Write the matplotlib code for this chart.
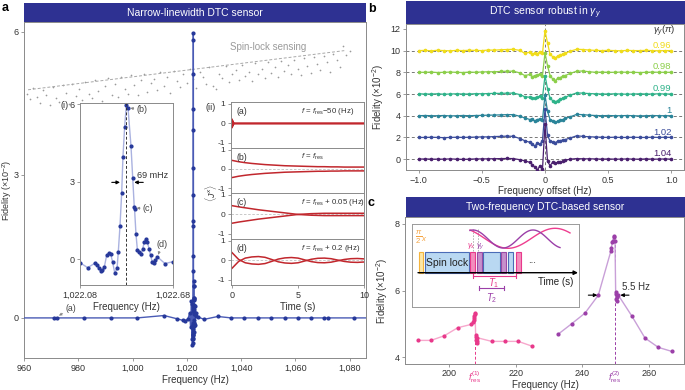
import numpy as np
import matplotlib
matplotlib.use('Agg')
import matplotlib.pyplot as plt
from matplotlib.patches import Rectangle
from matplotlib.transforms import blended_transform_factory

plt.rcParams['font.family'] = ['Liberation Sans', 'DejaVu Sans']
plt.rcParams['mathtext.fontset'] = 'custom'
plt.rcParams['mathtext.rm'] = 'Liberation Sans'
plt.rcParams['mathtext.it'] = 'Liberation Sans:italic'
plt.rcParams['mathtext.bf'] = 'Liberation Sans:bold'
plt.rcParams['font.size'] = 6.5
plt.rcParams['axes.edgecolor'] = '#8a8a8a'
plt.rcParams['axes.linewidth'] = 0.7
plt.rcParams['xtick.color'] = '#8a8a8a'
plt.rcParams['ytick.color'] = '#8a8a8a'
plt.rcParams['xtick.labelcolor'] = '#333333'
plt.rcParams['ytick.labelcolor'] = '#333333'
plt.rcParams['xtick.major.size'] = 2
plt.rcParams['ytick.major.size'] = 2
plt.rcParams['xtick.major.width'] = 0.6
plt.rcParams['ytick.major.width'] = 0.6
plt.rcParams['xtick.major.pad'] = 2
plt.rcParams['ytick.major.pad'] = 2
plt.rcParams['axes.labelcolor'] = '#333333'

# ---------------- data: panel a ----------------
main_f = [960.0, 971.0, 972.3, 982.0, 991.9, 1001.7, 1011.6, 1016.5, 1018.4, 1019.4,
          1020.4, 1021.0, 1021.4, 1021.7, 1021.9, 1022.0, 1022.05]
main_v = [0.0, 0.0, 0.0, 0.0, 0.0, 0.0, 0.05, -0.02, -0.05, -0.06,
          -0.02, 0.10, -0.20, 0.35, -0.45, 0.30, -0.57]
main_f2 = [1022.72, 1022.8, 1022.9, 1023.0, 1023.2, 1023.5, 1024.0, 1026.4, 1031.4,
           1036.3, 1041.2, 1046.2, 1051.1, 1056.0, 1061.0, 1065.9, 1070.6, 1071.9,
           1081.5, 1086.0]
main_v2 = [0.40, -0.30, 0.25, -0.15, 0.10, 0.05, 0.02, -0.03, 0.03,
           0.0, 0.0, 0.0, 0.0, 0.0, 0.0, 0.0, 0.0, 0.0,
           0.0, 0.0]

fine_f = [1022.080, 1022.130, 1022.180, 1022.192, 1022.203, 1022.215, 1022.224, 1022.237,
          1022.252, 1022.265, 1022.278, 1022.290, 1022.304, 1022.319, 1022.327, 1022.338,
          1022.349, 1022.357, 1022.368, 1022.379, 1022.390, 1022.409, 1022.420, 1022.430,
          1022.432, 1022.441, 1022.450, 1022.463, 1022.474, 1022.485, 1022.495, 1022.503,
          1022.514, 1022.525, 1022.535, 1022.546, 1022.557, 1022.566, 1022.579, 1022.628,
          1022.678]
fine_v = [-0.14, -0.33, -0.14, -0.23, -0.36, -0.45, -0.43, -0.30,
          0.15, 0.22, 0.19, -0.10, -0.53, -0.36, 0.27, 1.29,
          2.57, 3.94, 5.12, 5.96, 5.83, 4.37, 3.15, 2.03,
          1.93, 0.99, 0.37, 0.28, 0.19, 0.41, 0.67, 0.77,
          0.67, 0.41, 0.15, -0.10, -0.14, -0.04, 0.09, -0.17,
          -0.10]

gray_f = np.linspace(961.0, 1080.0, 100)
gray_v = [4.70, 4.58, 4.82, 4.62, 4.50, 4.78, 4.66, 4.47, 4.84, 4.60,
          4.52, 4.88, 4.72, 4.48, 4.90, 4.64, 4.80, 4.56, 4.95, 4.70,
          4.60, 4.98, 4.76, 4.55, 4.86, 5.02, 4.68, 4.90, 4.62, 5.05,
          4.80, 4.70, 5.08, 4.88, 4.66, 4.98, 5.12, 4.74, 4.92, 5.00,
          4.78, 5.15, 4.86, 5.04, 4.72, 5.18, 4.96, 4.84, 5.10, 4.92,
          5.22, 5.00, 4.82, 5.16, 5.05, 4.90, 5.25, 4.86, 4.80, 5.12,
          5.02, 5.28, 4.95, 5.10, 5.20, 4.98, 5.30, 5.06, 5.16, 4.96,
          5.34, 5.10, 5.22, 5.02, 5.36, 5.14, 5.26, 5.04, 5.38, 5.18,
          5.30, 5.10, 5.40, 5.22, 5.08, 5.44, 5.28, 5.14, 5.46, 5.32,
          5.20, 5.48, 5.36, 5.16, 5.52, 5.40, 5.26, 5.70, 5.50, 5.60]
trend_f = [961.5, 1078.0]
trend_v = [4.78, 5.60]

# inset (ii) envelopes
t_env = [0.0, 0.5, 1.0, 1.5, 2.0, 2.5, 3.0, 3.5, 4.0, 4.5, 5.0, 5.5, 6.0, 6.5, 7.0,
         7.5, 8.0, 8.5, 9.0, 9.5, 10.0]
env_b = [0.45, 0.38, 0.33, 0.29, 0.26, 0.23, 0.21, 0.19, 0.17, 0.16, 0.15, 0.14, 0.13,
         0.12, 0.12, 0.11, 0.11, 0.10, 0.10, 0.10, 0.10]
env_c = [0.45, 0.39, 0.34, 0.29, 0.24, 0.20, 0.16, 0.12, 0.08, 0.04, 0.00, -0.02, -0.04,
         -0.05, -0.06, -0.06, -0.06, -0.06, -0.06, -0.06, -0.06]
env_d = [0.40, 0.05, -0.12, -0.18, -0.20, -0.16, -0.05, 0.07, 0.13, 0.15, 0.12, 0.03,
         -0.06, -0.11, -0.12, -0.09, -0.02, 0.05, 0.09, 0.10, 0.08]
t_a = [0.0, 0.03, 0.06, 0.10, 0.15, 10.0]
env_a = [0.20, -0.15, 0.10, -0.05, 0.0, 0.0]

# ---------------- data: panel b ----------------
xb = [-1.0, -0.95, -0.9, -0.85, -0.8, -0.75, -0.7, -0.65, -0.6, -0.55, -0.5, -0.45, -0.4,
      -0.35, -0.3, -0.25, -0.2, -0.16, -0.12, -0.1, -0.08, -0.06, -0.04, -0.02, 0.0, 0.02,
      0.04, 0.06, 0.08, 0.1, 0.12, 0.14, 0.16, 0.2, 0.25, 0.3, 0.35, 0.4, 0.45, 0.5, 0.55,
      0.6, 0.65, 0.7, 0.75, 0.8, 0.85, 0.9, 0.95, 1.0]
gammas = ['0.96', '0.98', '0.99', '1', '1.02', '1.04']
offsets = [10, 8, 6, 4, 2, 0]
colors_b = ['#f0dc1a', '#8ccf4a', '#2fb38a', '#2a8499', '#3b4c9b', '#4a1f6e']
left_b = [
    [0.00, 0.02, -0.02, 0.03, 0.00, -0.02, 0.02, 0.00, 0.03, 0.02, 0.00, 0.05, 0.04, 0.08, 0.10],
    [0.00, 0.00, 0.02, -0.02, 0.00, 0.02, 0.00, -0.02, 0.02, 0.00, 0.03, 0.05, 0.05, 0.08, 0.10],
    [0.02, 0.00, 0.00, 0.02, -0.02, 0.00, 0.02, 0.00, 0.00, 0.03, 0.02, 0.04, 0.06, 0.06, 0.08],
    [0.00, 0.02, 0.00, 0.00, 0.02, -0.02, 0.00, 0.02, 0.00, 0.02, 0.03, 0.05, 0.06, 0.08, 0.10],
    [0.00, 0.00, 0.02, 0.00, -0.02, 0.00, 0.02, 0.00, 0.02, 0.03, 0.05, 0.05, 0.08, 0.10, 0.12],
    [0.00, 0.02, 0.00, 0.00, 0.00, 0.02, 0.00, -0.02, 0.00, 0.02, 0.02, 0.03, 0.04, 0.05, 0.06],
]
center_b = [
    [0.12, 0.02, -0.25, -0.15, -0.35, -0.20, -0.30, -0.10, -0.25, 1.85, 0.70, -0.35, -0.55,
     -0.70, -0.50, -0.45, -0.30, -0.25, -0.05, 0.12, 0.10],
    [0.10, -0.05, -0.30, -0.20, -0.40, -0.30, -0.25, -0.15, -0.30, 1.80, 0.60, -0.30, -0.60,
     -0.80, -0.55, -0.50, -0.35, -0.30, -0.10, 0.10, 0.12],
    [0.08, -0.05, -0.25, -0.30, -0.35, -0.40, -0.30, -0.20, -0.35, 1.70, 0.50, -0.40, -0.60,
     -0.75, -0.60, -0.45, -0.40, -0.30, -0.10, 0.10, 0.08],
    [0.10, -0.05, -0.20, -0.35, -0.30, -0.50, -0.35, -0.30, -0.40, 1.90, 0.40, -0.35, -0.45,
     -0.60, -0.50, -0.40, -0.35, -0.25, -0.10, 0.12, 0.10],
    [0.10, -0.10, -0.30, -0.45, -0.60, -0.80, -0.50, -0.65, -0.30, 2.60, 0.20, -0.35, -0.40,
     -0.50, -0.35, -0.30, -0.25, -0.20, -0.05, 0.15, 0.10],
    [0.05, -0.05, -0.15, -0.30, -0.50, -0.75, -1.00, -0.60, -0.95, 3.20, -0.20, -0.60, -0.30,
     -0.40, -0.30, -0.25, -0.20, -0.10, 0.00, 0.05, 0.03],
]
right_b = [
    [0.05, 0.02, 0.00, 0.02, 0.00, -0.02, 0.02, 0.00, 0.00, 0.02, 0.00, -0.02, 0.00, 0.00],
    [0.05, 0.00, 0.02, 0.00, 0.00, 0.02, 0.00, 0.00, -0.02, 0.00, 0.02, 0.00, 0.00, 0.00],
    [0.04, 0.02, 0.00, 0.00, 0.02, 0.00, -0.02, 0.00, 0.02, 0.00, 0.00, 0.02, 0.00, 0.00],
    [0.05, 0.02, 0.00, 0.02, 0.00, 0.00, 0.02, 0.00, -0.02, 0.00, 0.02, 0.00, 0.00, 0.00],
    [0.06, 0.04, 0.02, 0.00, 0.02, 0.00, 0.00, 0.02, 0.00, 0.00, 0.02, 0.00, 0.02, 0.00],
    [0.03, 0.02, 0.00, 0.02, 0.00, 0.00, 0.02, 0.00, 0.00, 0.02, 0.00, 0.00, 0.02, 0.00],
]

# ---------------- data: panel c ----------------
pink_f = [190.6, 194.6, 198.6, 202.6, 206.6, 207.2, 207.4, 207.5, 207.6, 207.7, 207.8,
          208.0, 208.1, 208.2, 208.3, 208.4, 208.5, 212.8, 216.8, 220.8, 224.8]
pink_v = [4.50, 4.50, 4.64, 4.88, 4.98, 5.05, 5.12, 5.18, 5.22, 5.28, 5.33,
          4.65, 4.60, 4.52, 4.42, 4.48, 4.58, 4.47, 4.47, 4.47, 4.33]
purp_f = [232.8, 236.8, 240.8, 244.8, 248.6, 248.7, 249.0, 249.2, 249.4, 249.6, 249.8,
          250.0, 250.1, 250.2, 250.3, 250.4, 250.8, 254.8, 258.8, 262.8, 266.8]
purp_v = [4.69, 5.00, 5.32, 5.86, 7.20, 7.28, 7.45, 7.50, 7.60, 7.63, 7.48,
          5.95, 5.90, 5.75, 5.68, 5.80, 5.86, 5.24, 4.57, 4.29, 4.17]
fres1 = 207.8
fres2 = 249.8

# ---------------- figure ----------------
W, H = 685, 390
fig = plt.figure(figsize=(W / 100, H / 100), dpi=100)


def fr(x0, y0, x1, y1):
    return [x0 / W, 1 - y1 / H, (x1 - x0) / W, (y1 - y0) / H]


HEAD = '#2e3192'


def header(x0, y0, x1, y1, txt):
    hax = fig.add_axes(fr(x0, y0, x1, y1))
    hax.set_facecolor(HEAD)
    hax.set_xticks([]); hax.set_yticks([])
    for s in hax.spines.values():
        s.set_visible(False)
    hax.text(0.5, 0.5, txt, color='white', ha='center', va='center', fontsize=7.5,
             transform=hax.transAxes)


TXT = '#333333'
BLUE_M = '#26389a'

# ---- panel a ----
header(24, 3, 366, 22, 'Narrow-linewidth DTC sensor')
axa = fig.add_axes(fr(24, 22, 366, 358))
axa.set_xlim(960, 1086)
axa.set_ylim(-0.84, 6.2)
axa.set_xticks([960, 980, 1000, 1020, 1040, 1060, 1080])
axa.set_xticklabels(['960', '980', '1,000', '1,020', '1,040', '1,060', '1,080'])
axa.set_yticks([0, 3, 6])
axa.set_xlabel('Frequency (Hz)', fontsize=7, labelpad=2)
axa.scatter(gray_f, gray_v, s=1.5, color='#9a9a9a', linewidths=0, zorder=1)
axa.plot(trend_f, trend_v, ls=(0, (3, 2)), color='#a8a8a8', lw=0.7, zorder=1)
axa.text(1050, 5.68, 'Spin-lock sensing', color='#9a9a9a', fontsize=7, ha='center', va='center')
all_f = main_f + fine_f + main_f2
all_v = main_v + fine_v + main_v2
axa.plot(all_f, all_v, '-', color='#4a5bb5', lw=1.0, zorder=3)
axa.plot(all_f[1:-1], all_v[1:-1], 'o', color=BLUE_M, ms=2.0, zorder=4)
axa.annotate('(a)', xy=(972.9, 0.05), xytext=(975.3, 0.19), fontsize=6.3, color='#444',
             ha='left', va='center',
             arrowprops=dict(arrowstyle='-|>', color='#888', lw=0.5, mutation_scale=4,
                             shrinkA=0, shrinkB=0))
fig.text(7.5 / W, 1 - 190 / H, r'Fidelity ($\times$10$^{-2}$)', rotation=90, ha='center',
         va='center', fontsize=6.5, color=TXT)
fig.text(2 / W, 1 - 8 / H, 'a', fontsize=9, fontweight='bold', ha='left', va='center')

# inset (i)
axi = fig.add_axes(fr(80, 103, 173, 285))
axi.set_xlim(1022.08, 1022.68)
axi.set_ylim(-1.0, 6.04)
axi.plot(fine_f, fine_v, '-', color='#aab2e0', lw=1.0)
axi.plot(fine_f, fine_v, 'o', color=BLUE_M, ms=2.0)
axi.axvline(1022.377, color='#333', lw=0.7, ls=(0, (3, 2)))
axi.set_xticks([1022.08, 1022.68])
axi.set_xticklabels(['1,022.08', '1,022.68'])
axi.set_yticks([0, 3, 6])
axi.set_xlabel('Frequency (Hz)', fontsize=7, labelpad=2)
ap = dict(arrowstyle='-|>', color='#888', lw=0.5, mutation_scale=4, shrinkA=0, shrinkB=1)
axi.annotate('(b)', xy=(1022.396, 5.85), xytext=(1022.445, 5.78), fontsize=6.5, color='#444',
             ha='left', va='center', arrowprops=ap)
axi.annotate('(c)', xy=(1022.437, 1.98), xytext=(1022.486, 1.95), fontsize=6.5, color='#444',
             ha='left', va='center', arrowprops=ap)
axi.annotate('(d)', xy=(1022.582, 0.12), xytext=(1022.607, 0.58), fontsize=6.5, color='#444',
             ha='center', va='center', arrowprops=ap)
axi.text(1022.446, 3.25, '69 mHz', fontsize=6.5, color='#333', ha='left', va='center')
axi.annotate('', xy=(1022.338, 2.97), xytext=(1022.285, 2.97),
             arrowprops=dict(arrowstyle='-|>', color='black', lw=0.8, mutation_scale=5,
                             shrinkA=0, shrinkB=0))
axi.annotate('', xy=(1022.43, 2.97), xytext=(1022.488, 2.97),
             arrowprops=dict(arrowstyle='-|>', color='black', lw=0.8, mutation_scale=5,
                             shrinkA=0, shrinkB=0))
fig.text(65 / W, 1 - 105 / H, '(i)', fontsize=6.5, color='#333', ha='center', va='center')

# inset (ii)
RED = '#c1272d'
edges = [102, 148, 193, 239, 285]
labels_ii = ['(a)', '(b)', '(c)', '(d)']
ftxt = [r'$f$ = $f_{\rm res}$$-$50 (Hz)', r'$f$ = $f_{\rm res}$',
        r'$f$ = $f_{\rm res}$ + 0.05 (Hz)', r'$f$ = $f_{\rm res}$ + 0.2 (Hz)']
series_ii = [(t_a, env_a), (t_env, env_b), (t_env, env_c), (t_env, env_d)]
for k in range(4):
    ax = fig.add_axes(fr(231, edges[k], 364, edges[k + 1]))
    ax.set_xlim(-0.08, 10)
    ax.set_ylim(-1.26, 1.1)
    tt, ee = series_ii[k]
    if k > 0:
        ax.axhline(0, color='#c0c0c0', lw=0.6, ls=(0, (3, 2)), zorder=1)
    ax.plot(tt, ee, color=RED, lw=1.1 if k else 1.3, zorder=2)
    ax.plot(tt, [-e for e in ee], color=RED, lw=1.1 if k else 1.3, zorder=2)
    ax.set_yticks([-1, 0, 1])
    ax.set_yticklabels(['-1', '0', '1'], fontsize=6)
    ax.set_xticks([0, 5, 10])
    if k < 3:
        ax.tick_params(axis='x', length=0, labelbottom=False)
    else:
        ax.set_xticklabels(['0', '5', '10'], fontsize=6.5)
        ax.set_xlabel('Time (s)', fontsize=7, labelpad=2)
    ax.text(0.04, 0.8, labels_ii[k], transform=ax.transAxes, fontsize=6.3, color='#333',
            va='center')
    ax.text(0.53, 0.8, ftxt[k], transform=ax.transAxes, fontsize=5.7, color='#333',
            va='center')
fig.text(211 / W, 1 - 108 / H, '(ii)', fontsize=6.5, color='#333', ha='center', va='center')
fig.text(211 / W, 1 - 193 / H, r'$\langle J^x\rangle$', rotation=90, fontsize=6.5, color=TXT,
         ha='center', va='center')

# ---- panel b ----
header(406, 1, 685, 24, r'DTC sensor robust in $\gamma_{y}$')
axb = fig.add_axes(fr(406, 24, 684, 170))
axb.set_xlim(-1.1, 1.1)
axb.set_ylim(-1.0, 12.45)
for off in offsets:
    axb.axhline(off, color='#777', lw=0.7, ls=(0, (3, 2.5)), zorder=1)
axb.axvline(0, color='#777', lw=0.7, ls=(0, (3, 2.5)), zorder=1)
for i in range(6):
    prof = left_b[i] + center_b[i] + right_b[i]
    yy = [p + offsets[i] for p in prof]
    axb.plot(xb, yy, '-o', color=colors_b[i], lw=0.9, ms=1.6, zorder=3 + i)
    axb.text(1.0, offsets[i] + 0.5, gammas[i], color=colors_b[i], fontsize=6.8, ha='right',
             va='center')
axb.text(1.03, 11.75, r'$\gamma_y$($\pi$)', fontsize=6.8, color='#333', ha='right',
         va='center')
axb.set_xticks([-1.0, -0.5, 0, 0.5, 1.0])
axb.set_xticklabels(['\u22121.0', '\u22120.5', '0', '0.5', '1.0'])
axb.set_yticks([0, 2, 4, 6, 8, 10, 12])
axb.set_xlabel('Frequency offset (Hz)', fontsize=7, labelpad=1)
axb.set_ylabel(r'Fidelity ($\times$10$^{-2}$)', fontsize=7, labelpad=3)
fig.text(368 / W, 1 - 9 / H, 'b', fontsize=9, fontweight='bold', ha='left', va='center')

# ---- panel c ----
PINK_L, PINK_M = '#f7a8cc', '#e8388a'
PURP_L, PURP_M = '#c9a0d8', '#9b3fa8'
header(406, 197, 685, 217, 'Two-frequency DTC-based sensor')
axc = fig.add_axes(fr(405, 217, 684, 364))
axc.set_xlim(186.8, 270.5)
axc.set_ylim(3.79, 8.21)
axc.plot([fres1, fres1], [3.79, max(pink_v)], color=PINK_M, lw=0.7, ls=(0, (3, 2)))
axc.plot([fres2, fres2], [3.79, max(purp_v)], color=PURP_M, lw=0.7, ls=(0, (3, 2)))
axc.plot(pink_f, pink_v, '-', color=PINK_L, lw=1.0)
axc.plot(pink_f, pink_v, 'o', color=PINK_M, ms=2.0)
axc.plot(purp_f, purp_v, '-', color=PURP_L, lw=1.0)
axc.plot(purp_f, purp_v, 'o', color=PURP_M, ms=2.0)
axc.set_xticks([200, 220, 240, 260])
axc.set_yticks([4, 6, 8])
axc.tick_params(axis='x', pad=1.5)
axc.set_ylabel(r'Fidelity ($\times$10$^{-2}$)', fontsize=7, labelpad=3)
fig.text(545 / W, 1 - 384.5 / H, 'Frequency (Hz)', fontsize=7, color=TXT, ha='center',
         va='center')
trc = blended_transform_factory(axc.transData, axc.transAxes)
axc.text(fres1, -0.035, r'$f^{(1)}_{\rm res}$', transform=trc, color=PINK_M, fontsize=6.5,
         ha='center', va='top')
axc.text(fres2, -0.035, r'$f^{(2)}_{\rm res}$', transform=trc, color=PURP_M, fontsize=6.5,
         ha='center', va='top')
arr = dict(arrowstyle='-|>', color='black', lw=0.8, mutation_scale=5, shrinkA=0, shrinkB=0)
axc.annotate('', xy=(244.5, 5.86), xytext=(241.8, 5.86), arrowprops=arr)
axc.annotate('', xy=(251.4, 5.86), xytext=(254.0, 5.86), arrowprops=arr)
axc.text(252.0, 6.1, '5.5 Hz', fontsize=7, color='#333', ha='left', va='center')
fig.text(368 / W, 1 - 203 / H, 'c', fontsize=9, fontweight='bold', ha='left', va='center')

# inset schematic in panel c (pixel-space schematic)
axs = fig.add_axes(fr(412, 224, 579, 307))
axs.set_xlim(412, 579)
axs.set_ylim(307, 224)
axs.set_xticks([]); axs.set_yticks([])
for s in axs.spines.values():
    s.set_color('#9a9a9a')
blocks = [(419, 423.3, '#fde7a6', '#f4b43c'), (425, 469.3, '#b9d8f2', '#4b6cb7'),
          (470, 475, '#f38dbd', '#e8398c'), (476.7, 482.3, '#c690cc', '#9b4aa6'),
          (483.3, 500, '#b9d8f2', '#4b6cb7'), (501, 506, '#c690cc', '#9b4aa6'),
          (508.3, 513.3, '#b9d8f2', '#4b6cb7'), (515.7, 520.7, '#f38dbd', '#e8398c')]
for x0, x1, fc, ec in blocks:
    axs.add_patch(Rectangle((x0, 251.7), x1 - x0, 21, facecolor=fc, edgecolor=ec, lw=0.8))
axs.text(447, 262.5, 'Spin lock', fontsize=7.5, color='#222', ha='center', va='center')
axs.text(532, 260, '...', fontsize=7, color='#222', ha='center', va='center')
axs.annotate('', xy=(578, 272.7), xytext=(418, 272.7),
             arrowprops=dict(arrowstyle='-|>', color='black', lw=1.0, mutation_scale=6,
                             shrinkA=0, shrinkB=0))
axs.text(556, 282, 'Time (s)', fontsize=7, color='#222', ha='center', va='center')
axs.text(421.5, 237, r'$\frac{\pi}{2}_x$', fontsize=8, color='#f4a340', ha='center', va='center')
axs.text(471.5, 246, r'$\gamma_x$', fontsize=5.5, color=PINK_M, ha='center', va='center')
axs.text(480.5, 246, r'$\gamma_y$', fontsize=5.5, color=PURP_M, ha='center', va='center')
axs.plot([473, 473], [229, 251], color='#aaa', lw=0.6, ls=(0, (2, 1.5)))
axs.plot([478, 478], [229, 251], color='#aaa', lw=0.6, ls=(0, (2, 1.5)))
xw1 = np.linspace(470, 570, 120)
axs.plot(xw1, 238.3 - 10 * np.cos(2 * np.pi * (xw1 - 555) / 94), color='#ee3d8f', lw=1.0)
xw2 = np.linspace(470, 560, 120)
axs.plot(xw2, 239 - 9 * np.cos(2 * np.pi * (xw2 - 533) / 60), color='#9b3fa8', lw=1.0)
axs.plot([473.3, 516], [276, 276], color=PINK_M, lw=0.8)
axs.plot([473.3, 473.3], [274, 278], color=PINK_M, lw=0.8)
axs.plot([516, 516], [274, 278], color=PINK_M, lw=0.8)
axs.text(494, 283.5, r'$T_1$', fontsize=7, color=PINK_M, ha='center', va='center')
axs.plot([479, 504.3], [288.3, 288.3], color=PURP_M, lw=0.8)
axs.plot([479, 479], [286.3, 290.3], color=PURP_M, lw=0.8)
axs.plot([504.3, 504.3], [286.3, 290.3], color=PURP_M, lw=0.8)
axs.text(492, 298, r'$T_2$', fontsize=7, color=PURP_M, ha='center', va='center')

fig.savefig('out.png', dpi=100)
